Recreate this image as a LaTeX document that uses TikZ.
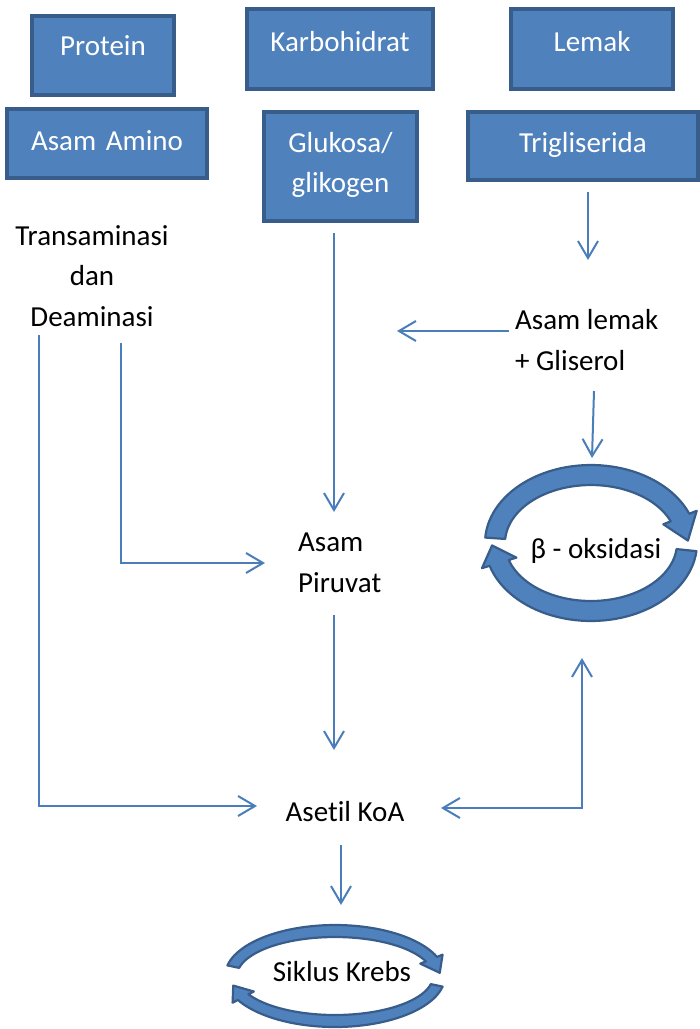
\documentclass[tikz,border=0pt]{standalone}
\usepackage{fontspec}
\setmainfont[Ligatures=NoCommon]{Carlito}
\usetikzlibrary{arrows.meta}
\definecolor{boxfill}{HTML}{4F81BD}
\definecolor{boxline}{HTML}{385D8A}
\definecolor{arrowc}{HTML}{4A7EBB}
\newcommand\bigfont{\fontsize{29}{40.5}\selectfont}
\tikzset{
  box/.style={draw=boxline, fill=boxfill, line width=4pt, text=white, inner sep=0pt,
              outer sep=0pt, align=center, font=\bigfont, anchor=north west},
  lbl/.style={inner sep=0pt, font=\bigfont},
  conn/.style={draw=arrowc, line width=2pt, -{Straight Barb[length=17pt,width=20pt]}},
  conn2/.style={draw=arrowc, line width=2pt, {Straight Barb[length=17pt,width=20pt]}-{Straight Barb[length=17pt,width=20pt]}},
  cyc/.style={fill=boxfill, draw=boxline, line width=2.2pt, line join=round},
}
\begin{document}
\begin{tikzpicture}[x=1pt,y=-1pt]
\useasboundingbox (0,0) rectangle (700,1029);

% boxes
\node[box, text width=142pt, text height=39pt, text depth=40pt] (protein) at (32,16) {Protein};
\node[box, text width=186pt, text height=42pt, text depth=38pt] (karbo) at (247,9) {Karbohidrat};
\node[box, text width=162pt, text height=42pt, text depth=38pt] (lemak) at (511,9) {Lemak};
\node[box, text width=200pt, text height=41pt, text depth=28pt] (amino) at (7,109) {Asam Amino};
\node[box, text width=153pt, text height=40pt, text depth=69pt] (gluko) at (264,112) {Glukosa/\\glikogen};
\node[box, text width=230pt, text height=40pt, text depth=28pt] (trig) at (468,112) {Trigliserida};

% labels (base anchor = baseline of the last line)
\node[lbl, align=center, anchor=base] (trans) at (92,326) {Transaminasi\\dan\\Deaminasi};
\node[lbl, align=left, anchor=base west] (lemaks) at (515,370) {Asam lemak\\+ Gliserol};
\node[lbl, align=left, anchor=base west] (piruvat) at (298,592) {Asam\\Piruvat};
\node[lbl, anchor=base] (beta) at (596,558) {β - oksidasi};
\node[lbl, anchor=base] (asetil) at (345,821) {Asetil KoA};
\node[lbl, anchor=base] (krebs) at (342,981) {Siklus Krebs};

% connector end points
\coordinate (a1s) at (588,192); \coordinate (a1e) at (588,260);
\coordinate (a2s) at (509,331); \coordinate (a2e) at (397,331);
\coordinate (a3s) at (594,391); \coordinate (a3e) at (592,458);
\coordinate (a4s) at (334,233); \coordinate (a4e) at (334,512);
\coordinate (a5s) at (121,343); \coordinate (a5e) at (265,563);
\coordinate (a6s) at (39,335);  \coordinate (a6e) at (257,806);
\coordinate (a7s) at (334,615); \coordinate (a7e) at (334,750);
\coordinate (a8s) at (441,808); \coordinate (a8e) at (582,658);
\coordinate (a9s) at (341,845); \coordinate (a9e) at (341,905);

\draw[conn] (a1s) -- (a1e);
\draw[conn] (a2s) -- (a2e);
\draw[conn] (a3s) -- (a3e);
\draw[conn] (a4s) -- (a4e);
\draw[conn] (a5s) |- (a5e);
\draw[conn] (a6s) |- (a6e);
\draw[conn] (a7s) -- (a7e);
\draw[conn2] (a8s) -| (a8e);
\draw[conn] (a9s) -- (a9e);

% beta-oxidation cycle
\begin{scope}[shift={(591,543)}]
  \filldraw[cyc] (184:106 and 78) -- plot[domain=184:338,samples=50] (\x:106 and 78)
     -- (338:114 and 86) -- (358:97 and 69) -- (338:78 and 50)
     -- plot[domain=338:184,samples=50] (\x:86 and 58) -- cycle;
  \filldraw[cyc] (6:106 and 78) -- plot[domain=6:163,samples=50] (\x:106 and 78)
     -- (163:114 and 86) -- (178:99 and 70) -- (163:78 and 50)
     -- plot[domain=163:6,samples=50] (\x:86 and 58) -- cycle;
\end{scope}

% Krebs cycle
\begin{scope}[shift={(335,976)}]
  \filldraw[cyc] (192:110 and 51) -- plot[domain=192:338,samples=50] (\x:110 and 51)
     -- (338:116 and 57) -- (356:105 and 46) -- (338:92 and 33)
     -- plot[domain=338:192,samples=50] (\x:98 and 39) -- cycle;
  \filldraw[cyc] (12:110 and 51) -- plot[domain=12:152,samples=50] (\x:110 and 51)
     -- (152:116 and 57) -- (168:104 and 46) -- (152:92 and 33)
     -- plot[domain=152:12,samples=50] (\x:98 and 39) -- cycle;
\end{scope}
\end{tikzpicture}
\end{document}
